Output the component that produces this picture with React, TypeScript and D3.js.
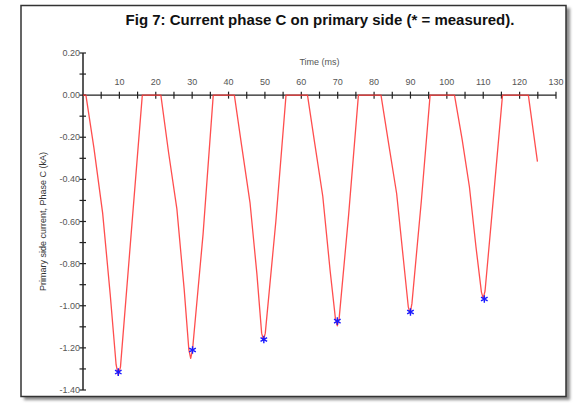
import React from 'react';
import * as d3 from 'd3';

// simulated current, phase C (kA) against time (ms)
const timeMs = [0, 0.8, 3, 5.4, 7.5, 9.1, 9.7, 10.3, 13, 16.3,
  21.4, 23.5, 25.8, 27.8, 29.1, 29.6, 30.1, 33, 35.8,
  41.6, 43.6, 45.9, 47.8, 49.1, 49.6, 50.1, 53, 55.8,
  61.7, 63.7, 65.9, 67.9, 69.4, 69.9, 70.4, 73, 75.7,
  81.9, 84, 86.2, 88, 89.4, 89.9, 90.4, 93, 95.4,
  102.1, 104.2, 106.2, 108, 109.5, 110, 110.5, 113, 115.3,
  122.4, 124.9];
const currentKA = [0, 0, -0.25, -0.56, -0.95, -1.28, -1.33, -1.29, -0.71, 0,
  0, -0.27, -0.54, -0.92, -1.21, -1.25, -1.21, -0.66, 0,
  0, -0.24, -0.51, -0.85, -1.13, -1.163, -1.13, -0.6, 0,
  0, -0.23, -0.48, -0.83, -1.065, -1.095, -1.06, -0.57, 0,
  0, -0.23, -0.467, -0.77, -1.005, -1.036, -0.99, -0.5, 0,
  0, -0.21, -0.435, -0.72, -0.935, -0.965, -0.93, -0.45, 0,
  0, -0.316];

// measured peaks (*)
const measuredTime = [9.7, 30.1, 49.7, 69.9, 90.0, 110.3];
const measuredKA = [-1.315, -1.21, -1.16, -1.073, -1.03, -0.968];

const xTicks = [10, 20, 30, 40, 50, 60, 70, 80, 90, 100, 110, 120, 130];
const yTicks = [0.2, 0, -0.2, -0.4, -0.6, -0.8, -1.0, -1.2, -1.4];

const W = 576, H = 404;

export default function App() {
  const x = d3.scaleLinear().domain([0, 130]).range([83, 556]);
  const y = d3.scaleLinear().domain([0.2, -1.4]).range([53, 390]);

  const pts = timeMs.map((t, i) => [t, currentKA[i]] as [number, number]);
  const path = d3.line<[number, number]>().x(d => x(d[0])).y(d => y(d[1]))(pts) || '';
  const star = d3.symbol().type(d3.symbolAsterisk).size(40)() || '';

  const minorX = d3.range(5, 131, 5);
  const minorY = d3.range(-14, 3).map(v => v / 10);

  return (
    <div style={{position: 'absolute', left: 0, top: 0}}>
      <svg width={W} height={H} style={{display: 'block', background: '#fff', fontFamily: 'Arial, "Liberation Sans", sans-serif'}}>
        <defs>
          <filter id="sh" x="-5%" y="-5%" width="110%" height="110%">
            <feGaussianBlur stdDeviation="1.5" />
          </filter>
        </defs>
        <rect x={24} y={8} width={546} height={392} fill="#8a8a8a" filter="url(#sh)" />
        <rect x={21} y={5.5} width={545} height={391} fill="#fff" stroke="#333" strokeWidth={1.5} />

        <text x={320} y={25} textAnchor="middle" fontSize={15} fontWeight="bold" fill="#111">
          Fig 7: Current phase C on primary side (* = measured).
        </text>

        {/* x axis along 0 */}
        <line x1={x(0)} x2={x(130)} y1={y(0)} y2={y(0)} stroke="#222" strokeWidth={1.2} />
        {minorX.map(t => (
          <line key={'xt' + t} x1={x(t)} x2={x(t)} y1={y(0) - 3.5} y2={y(0) + 3.5} stroke="#222" strokeWidth={1.2} />
        ))}
        {xTicks.map(t => (
          <text key={'xl' + t} x={x(t)} y={y(0) - 10} textAnchor="middle" fontSize={9} fill="#555">{t}</text>
        ))}
        <text x={x(65)} y={65} textAnchor="middle" fontSize={9} fill="#555">Time (ms)</text>

        {/* y axis */}
        <line x1={x(0)} x2={x(0)} y1={y(0.2)} y2={y(-1.4)} stroke="#222" strokeWidth={1.5} />
        {minorY.map(v => (
          <line key={'yt' + v} x1={x(0) - 3.5} x2={x(0) + 3} y1={y(v)} y2={y(v)} stroke="#222" strokeWidth={1.2} />
        ))}
        {yTicks.map(v => (
          <text key={'yl' + v} x={x(0) - 3} y={y(v) + 3} textAnchor="end" fontSize={9} fill="#555">{v.toFixed(2)}</text>
        ))}
        <text transform={`translate(46,${(y(0.2) + y(-1.4)) / 2}) rotate(-90)`} textAnchor="middle" fontSize={9} fill="#333">
          Primary side current, Phase C (kA)
        </text>

        <path d={path} fill="none" stroke="#ff3b3b" strokeWidth={1.3} strokeOpacity={0.9} strokeLinejoin="round" />
        {measuredTime.map((t, i) => (
          <path key={'m' + i} d={star} transform={`translate(${x(t)},${y(measuredKA[i])})`} fill="none" stroke="#1a1aff" strokeWidth={1.4} />
        ))}
      </svg>
    </div>
  );
}
